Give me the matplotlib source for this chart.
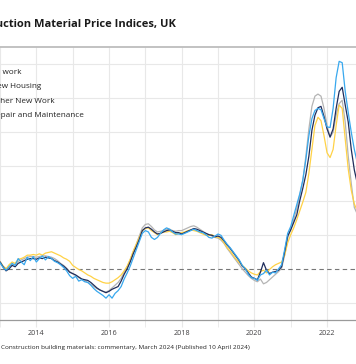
import numpy as np
import pandas as pd
import matplotlib
matplotlib.use("Agg")
import matplotlib.pyplot as plt

# monthly annual % change, Oct 2012 - Dec 2022
months = pd.date_range("2012-10-01", "2022-12-01", freq="MS")

all_work = [
    1.2, 1.0, 1.1,
    1.0, 0.3, -0.3, 0.0, 0.5, 0.3, 0.8, 1.0, 1.2, 1.4, 1.5, 1.5,
    1.4, 1.6, 1.5, 1.7, 1.6, 1.5, 1.2, 1.0, 0.7, 0.4, 0.0, -0.5,
    -0.7, -0.9, -1.2, -1.5, -1.6, -1.7, -2.0, -2.4, -2.8, -3.1, -3.3, -3.5,
    -3.3, -3.0, -2.8, -2.6, -1.8, -0.8, 0.0, 1.0, 2.2, 3.2, 4.3, 5.6,
    6.0, 6.1, 5.8, 5.4, 5.1, 5.2, 5.4, 5.6, 5.7, 5.5, 5.3, 5.3,
    5.1, 5.3, 5.5, 5.7, 5.9, 5.8, 5.6, 5.4, 5.2, 5.0, 4.9, 4.7,
    4.8, 4.6, 4.1, 3.5, 3.0, 2.4, 1.8, 1.2, 0.4, 0.0, -0.6, -1.2,
    -1.4, -1.6, -0.5, 0.9, -0.2, -0.7, -0.5, -0.4, -0.2, 0.3, 2.5, 4.8,
    5.7, 6.8, 7.9, 10.0, 11.8, 13.8, 16.5, 20.3, 22.5, 23.6, 23.8, 22.3,
    20.5, 19.3, 20.5, 23.5, 26.0, 26.6, 24.0, 21.5, 17.5, 14.5, 12.5, 11.0,
]
new_housing = [
    1.4, 1.2, 1.3,
    1.1, 0.4, 0.0, 0.3, 0.6, 0.7, 1.1, 1.3, 1.5, 1.7, 1.8, 1.8,
    1.7, 1.8, 1.9, 1.9, 1.8, 1.7, 1.5, 1.2, 0.8, 0.5, 0.1, -0.4,
    -0.7, -1.0, -1.3, -1.5, -1.7, -2.0, -2.3, -2.6, -2.9, -3.1, -3.3, -3.4,
    -3.2, -2.8, -2.4, -2.0, -1.4, -0.5, 0.3, 1.3, 2.5, 3.6, 4.8, 6.0,
    6.5, 6.6, 6.2, 5.7, 5.4, 5.5, 5.6, 5.8, 5.8, 5.6, 5.5, 5.6,
    5.6, 5.8, 6.0, 6.2, 6.3, 6.1, 5.8, 5.5, 5.2, 5.0, 4.8, 4.6,
    4.5, 4.2, 3.7, 3.0, 2.4, 1.8, 1.2, 0.6, 0.0, -0.5, -1.0, -1.4,
    -1.7, -1.9, -1.5, -2.2, -2.0, -1.6, -1.2, -0.8, -0.4, 0.1, 2.0, 4.5,
    5.9, 7.2, 8.8, 10.8, 13.0, 16.5, 20.5, 23.8, 25.3, 25.6, 25.3, 23.5,
    21.0, 19.3, 20.0, 22.5, 24.2, 24.7, 21.5, 16.5, 12.5, 9.0, 8.0, 7.5,
]
other_new_work = [
    1.3, 1.0, 1.2,
    0.9, 0.2, -0.2, 0.3, 0.8, 0.5, 1.5, 1.0, 0.6, 1.7, 1.2, 1.8,
    1.0, 1.5, 1.9, 1.3, 1.8, 1.5, 1.1, 0.9, 0.6, 0.2, -0.3, -1.0,
    -1.4, -1.1, -1.8, -1.6, -1.9, -2.0, -2.4, -2.9, -3.3, -3.6, -3.9, -4.3,
    -3.8, -4.3, -3.6, -3.2, -2.6, -1.5, -0.6, 0.4, 1.6, 2.8, 4.0, 5.2,
    5.6, 5.4, 4.6, 4.3, 4.6, 5.2, 5.7, 6.0, 5.8, 5.4, 5.1, 5.1,
    5.0, 5.2, 5.4, 5.6, 5.8, 5.6, 5.4, 5.3, 5.0, 4.6, 4.5, 4.8,
    5.1, 4.9, 4.2, 3.6, 3.1, 2.5, 1.9, 1.3, 0.5, 0.0, -0.8, -1.3,
    -1.4, -1.7, -0.9, -0.7, -0.2, -0.9, -0.5, -0.6, 0.0, 0.6, 2.8, 5.2,
    6.2, 7.8, 9.4, 11.0, 13.0, 16.0, 19.5, 22.0, 23.2, 23.5, 23.3, 22.0,
    20.8, 20.7, 23.5, 28.0, 30.4, 30.2, 26.0, 22.9, 20.0, 17.5, 15.5, 14.0,
]
repair_maint = [
    1.0, 0.9, 1.1,
    1.0, 0.4, 0.0, 0.6, 1.0, 0.8, 1.4, 1.5, 1.7, 2.0, 2.0, 2.1,
    2.0, 2.2, 2.0, 2.3, 2.4, 2.5, 2.3, 2.1, 1.9, 1.6, 1.4, 1.1,
    0.5, 0.2, -0.1, -0.3, -0.6, -0.9, -1.1, -1.4, -1.6, -1.8, -2.0, -2.1,
    -2.1, -1.9, -1.6, -1.3, -0.9, -0.3, 0.4, 1.4, 2.6, 3.6, 4.6, 5.6,
    5.9, 6.0, 5.6, 5.3, 5.0, 5.2, 5.4, 5.4, 5.5, 5.3, 5.0, 5.2,
    5.3, 5.4, 5.6, 5.7, 5.6, 5.5, 5.3, 5.1, 4.9, 4.9, 5.0, 4.7,
    4.6, 4.4, 3.8, 3.1, 2.6, 2.0, 1.4, 0.9, 0.5, 0.1, -0.3, -0.6,
    -0.8, -0.9, -0.4, -0.2, -0.6, -0.1, 0.3, 0.6, 0.8, 1.0, 2.0, 3.8,
    5.0, 6.0, 7.2, 8.5, 9.8, 11.2, 14.0, 17.5, 21.0, 22.2, 21.7, 19.5,
    17.0, 16.3, 17.5, 21.0, 24.0, 23.5, 19.0, 14.6, 11.5, 9.5, 8.5, 8.0,
]

labels = ["All work", "New Housing", "Other New Work", "Repair and Maintenance"]
colors = ["#1f2d5c", "#b4b4b4", "#38a8ee", "#ffd246"]
year_ticks = [2014, 2016, 2018, 2020, 2022]

# decimal years, month m -> year + (m-1)/12
t = months.year + (months.month - 1) / 12.0

W, H = 356, 364
fig = plt.figure(figsize=(W / 100, H / 100), dpi=100)
plt.rcParams["font.family"] = ["Open Sans", "DejaVu Sans"]

ax = fig.add_axes([0, (H - 320) / H, 1, (320 - 47) / H])

series = [all_work, new_housing, other_new_work, repair_maint]
zorders = [4, 2, 5, 3]
for vals, lab, col, z in zip(series, labels, colors, zorders):
    ax.plot(t, vals, color=col, lw=0.9, label=lab, zorder=z)

ax.set_xlim(2022 - 327 / 36.4, 2022 + 29 / 36.4)
ax.set_ylim(-7.5, 32.5)

# grid
ax.set_yticks([-5, 5, 10, 15, 20, 25, 30])
ax.set_xticks(np.arange(2013, 2023), minor=True)
ax.set_xticks(year_ticks)
ax.grid(True, which="both", axis="x", color="#e8e8e8", lw=0.8)
ax.grid(True, axis="y", color="#e8e8e8", lw=0.8)
ax.axhline(0, color="#777777", lw=0.8, ls=(0, (4, 3)), zorder=1)
ax.set_axisbelow(True)

ax.tick_params(axis="y", left=False, labelleft=False)
ax.tick_params(axis="x", which="both", length=5, color="#e8e8e8",
               labelsize=5.2, labelcolor="#414042", pad=2)
for s in ["left", "right"]:
    ax.spines[s].set_visible(False)
ax.spines["bottom"].set_color("#9a9a9a")
ax.spines["bottom"].set_linewidth(0.9)
ax.spines["top"].set_color("#bdbdbd")
ax.spines["top"].set_linewidth(1.3)

# legend with the swatches falling off the left edge, as in the crop
fig.legend(loc="upper left", bbox_to_anchor=(-31.5 / W, (H - 68) / H),
           frameon=False, fontsize=5.9, handlelength=2, handletextpad=0.8,
           borderpad=0, borderaxespad=0, labelspacing=0.82,
           labelcolor="#222222")

fig.text(176 / W, (H - 24) / H, "Construction Material Price Indices, UK",
         ha="right", va="center", fontsize=8, fontweight="bold", color="#1a1a1a")
fig.text(1 / W, (H - 348) / H,
         "Construction building materials: commentary, March 2024 (Published 10 April 2024)",
         ha="left", va="center", fontsize=4.6, color="#222222")

fig.savefig("out.png", dpi=100)
